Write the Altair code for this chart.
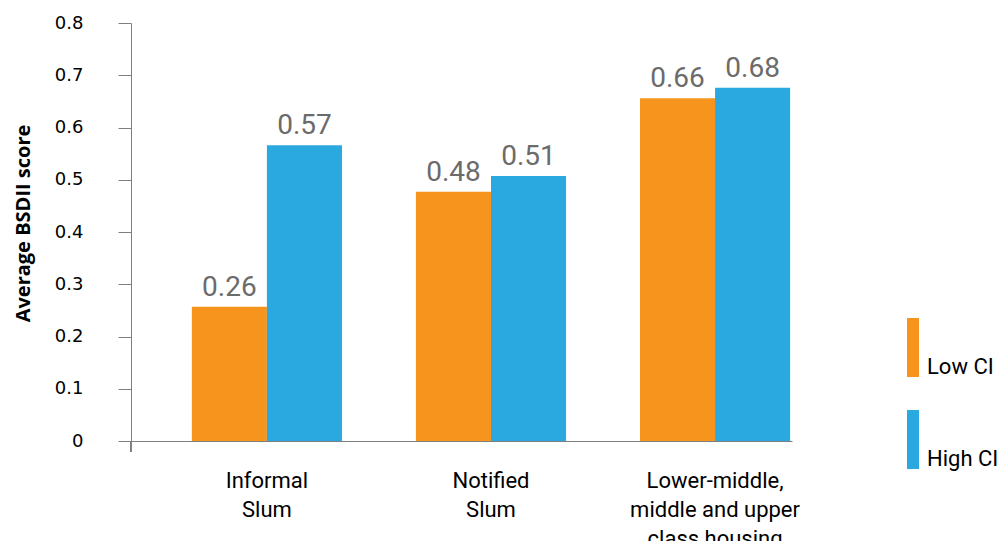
import altair as alt
import pandas as pd

categories = ["Informal|Slum", "Notified|Slum", "Lower-middle,|middle and upper|class housing"]
series = ["Low CI", "High CI"]
low_ci = [0.257, 0.477, 0.656]
high_ci = [0.566, 0.507, 0.676]
colors = ["#F7941D", "#29A9E0"]
y_ticks = [0, 0.1, 0.2, 0.3, 0.4, 0.5, 0.6, 0.7, 0.8]

rows = []
for c, lo, hi in zip(categories, low_ci, high_ci):
    rows.append({"cat": c, "series": series[0], "value": lo})
    rows.append({"cat": c, "series": series[1], "value": hi})
df = pd.DataFrame(rows)

FONT = "Roboto"

x = alt.X("cat:N", sort=categories,
          scale=alt.Scale(paddingInner=0.33, paddingOuter=0.14, align=0.97),
          axis=alt.Axis(title=None, ticks=False, labelAngle=0,
                        labelExpr="split(datum.label, '|')",
                        labelFontSize=22, labelColor="#000000", labelFont=FONT,
                        labelLineHeight=29, labelPadding=29,
                        domainColor="#7f7f7f", labelBaseline="top"))
xo = alt.XOffset("series:N", sort=series, scale=alt.Scale(paddingInner=0, paddingOuter=0))
y = alt.Y("value:Q",
          scale=alt.Scale(domain=[0, 0.8], nice=False),
          axis=alt.Axis(title="Average BSDII score", values=y_ticks, grid=False,
                        tickSize=13, tickColor="#7f7f7f", domainColor="#7f7f7f",
                        labelPadding=35, labelFontSize=18, labelColor="#000000",
                        labelFont="DejaVu Sans",
                        labelExpr="datum.value == 0 ? '0' : format(datum.value, '.1f')",
                        titleFontSize=20, titleFontWeight="bold", titleFont="Open Sans",
                        titleColor="#000000", titleX=-102, titleY=200,
                        titleBaseline="alphabetic"))

color = alt.Color("series:N", sort=series,
                  scale=alt.Scale(domain=series, range=colors),
                  legend=alt.Legend(title=None, orient="none", legendX=771, legendY=333,
                                    symbolType="M-0.6,-4.9 L0.6,-4.9 L0.6,1 L-0.6,1 Z",
                                    symbolSize=400, symbolStrokeWidth=0, symbolOpacity=1,
                                    labelFontSize=22, labelFont=FONT, labelColor="#000000",
                                    labelOffset=3, rowPadding=32, padding=0))

bars = alt.Chart(df).mark_bar().encode(x=x, xOffset=xo, y=y, color=color)

labels = alt.Chart(df).mark_text(baseline="alphabetic", dy=-11, fontSize=28, font=FONT,
                                 color="#6b6b6b").encode(
    x=alt.X("cat:N", sort=categories), xOffset=xo, y="value:Q",
    text=alt.Text("value:Q", format=".2f"))

axis_ext = alt.Chart(df).mark_rule(color="#7f7f7f").encode(
    x=alt.value(0), y=alt.value(418), y2=alt.value(429))

chart = alt.layer(bars, labels, axis_ext).properties(
    width=661, height=418,
    autosize=alt.AutoSizeParams(type="none"),
    padding={"left": 123, "top": 15, "right": 207, "bottom": 100},
).configure_view(stroke=None)

chart.save("out.html", embed_options={"renderer": "svg", "actions": False})
